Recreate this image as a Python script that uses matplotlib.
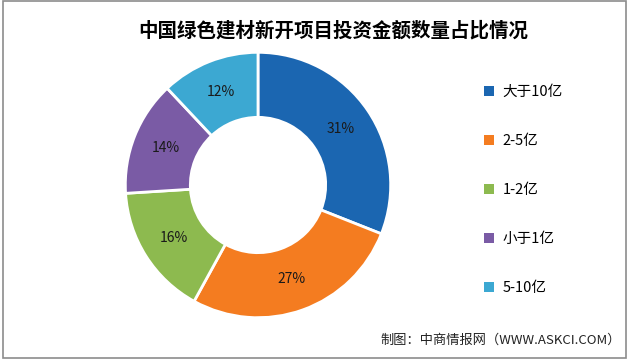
import matplotlib.pyplot as plt
from matplotlib.patches import Rectangle, Patch

plt.rcParams['font.family'] = ['Noto Sans CJK SC', 'DejaVu Sans']

labels = ['大于10亿', '2-5亿', '1-2亿', '小于1亿', '5-10亿']
shares = [31, 27, 16, 14, 12]
colors = ['#1B66B1', '#F47C20', '#8DBA4F', '#7A5BA5', '#3CA8D2']

fig = plt.figure(figsize=(6.4, 3.6), dpi=100)

# thin grey frame round the whole chart
fig.patches.append(Rectangle((0.004, 0.006), 0.974, 0.99, transform=fig.transFigure,
                             fill=False, edgecolor='#8c8c8c', linewidth=1.2))

ax = fig.add_axes([(258 - 134) / 640, (360 - 185 - 134) / 360, 268 / 640, 268 / 360])
wedges, _, autotexts = ax.pie(shares, colors=colors, startangle=90, counterclock=False,
                              radius=1, autopct='%d%%', pctdistance=0.75,
                              wedgeprops=dict(width=0.49, edgecolor='white', linewidth=2),
                              textprops=dict(fontsize=10, color='#1a1a1a'))
ax.set_xlim(-1.01, 1.01)
ax.set_ylim(-1.01, 1.01)
ax.set_aspect('equal')

fig.text(0.52, 0.915, '中国绿色建材新开项目投资金额数量占比情况', ha='center', va='center',
         fontsize=14, fontweight='bold', color='black')

handles = [Patch(facecolor=c, edgecolor='none') for c in colors]
fig.legend(handles, labels, loc='upper left', bbox_to_anchor=(0.735, 0.8),
           frameon=False, fontsize=10.5, handlelength=0.7, handleheight=0.7,
           handletextpad=0.6, labelspacing=2.4)

fig.text(0.97, 0.055, '制图：中商情报网（WWW.ASKCI.COM）', ha='right', va='center',
         fontsize=9.5, color='#222222')

fig.savefig('out.png', dpi=100)
